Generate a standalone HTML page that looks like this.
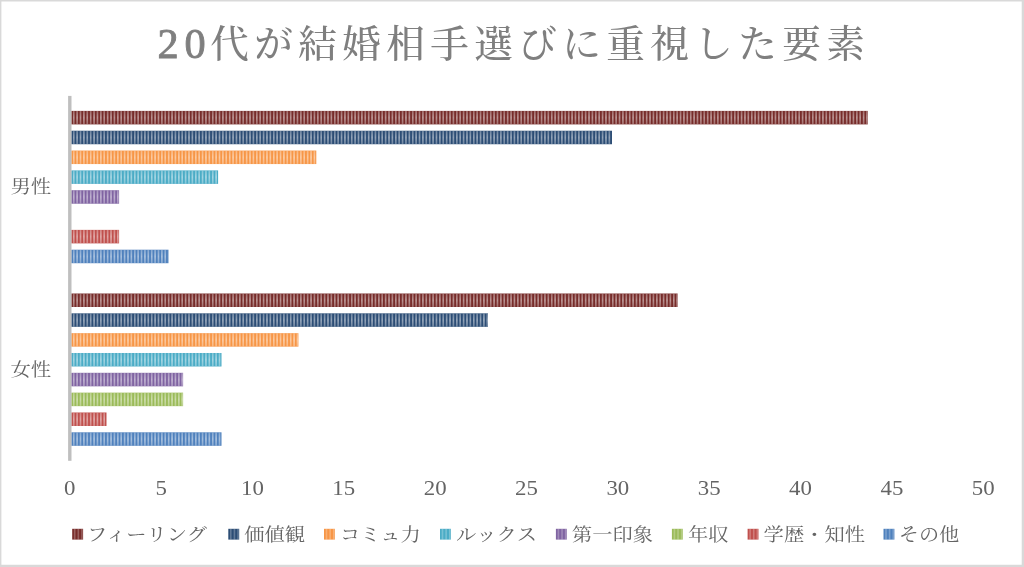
<!DOCTYPE html>
<html lang="ja">
<head>
<meta charset="utf-8">
<title>20代が結婚相手選びに重視した要素</title>
<style>
html,body{margin:0;padding:0;background:#d9d9d9;}
body{width:1024px;height:567px;overflow:hidden;}
svg{display:block;filter:blur(0.4px);}
text{font-family:"Liberation Serif","Noto Serif CJK SC",serif;}
.t{font-weight:500;fill:#7f7f7f;font-size:38.5px;}
.d{font-weight:400;fill:#7f7f7f;font-size:42.3px;stroke:#7f7f7f;stroke-width:0.9px;}
.l{fill:#646464;font-size:20px;}
.n{fill:#646464;font-size:20.6px;text-anchor:middle;}
</style>
</head>
<body>
<svg width="1024" height="567" viewBox="0 0 1024 567">
<defs>
<linearGradient id="mg" x1="0" y1="0" x2="0" y2="1">
<stop offset="0" stop-color="#fff" stop-opacity="0.30"/>
<stop offset="0.5" stop-color="#fff" stop-opacity="0.50"/>
<stop offset="1" stop-color="#fff" stop-opacity="0.30"/>
</linearGradient>
<mask id="m" maskContentUnits="objectBoundingBox"><rect x="0" y="0" width="1" height="1" fill="url(#mg)"/></mask>
<pattern id="st" x="71.20" y="0" width="3.39" height="20" patternUnits="userSpaceOnUse"><rect x="1.695" y="0" width="1.695" height="20" fill="#fff"/></pattern>
</defs>
<rect x="0" y="0" width="1024" height="567" fill="#fff"/>
<path d="M0 0H1024V567H0Z M1.4 1.4V564.8H1021.7V1.4Z" fill="#d9d9d9" fill-rule="evenodd"/>
<text class="d" x="157.4" y="58" letter-spacing="5.9">20</text>
<text class="t" transform="translate(210.2,57.2) scale(1.003,0.98)" letter-spacing="5.4">代が結婚相手選びに重視した要素</text>
<rect x="71.3" y="110.90" width="796.50" height="13.5" fill="#772c2a"/><rect x="71.3" y="110.90" width="796.50" height="13.5" fill="url(#st)" mask="url(#m)"/>
<rect x="71.3" y="130.73" width="540.70" height="13.5" fill="#2c4d75"/><rect x="71.3" y="130.73" width="540.70" height="13.5" fill="url(#st)" mask="url(#m)"/>
<rect x="71.3" y="150.56" width="245.00" height="13.5" fill="#f79646"/><rect x="71.3" y="150.56" width="245.00" height="13.5" fill="url(#st)" mask="url(#m)"/>
<rect x="71.3" y="170.39" width="146.80" height="13.5" fill="#4bacc6"/><rect x="71.3" y="170.39" width="146.80" height="13.5" fill="url(#st)" mask="url(#m)"/>
<rect x="71.3" y="190.22" width="47.80" height="13.5" fill="#8064a2"/><rect x="71.3" y="190.22" width="47.80" height="13.5" fill="url(#st)" mask="url(#m)"/>
<rect x="71.3" y="229.88" width="47.80" height="13.5" fill="#c0504d"/><rect x="71.3" y="229.88" width="47.80" height="13.5" fill="url(#st)" mask="url(#m)"/>
<rect x="71.3" y="249.71" width="97.20" height="13.5" fill="#4f81bd"/><rect x="71.3" y="249.71" width="97.20" height="13.5" fill="url(#st)" mask="url(#m)"/>
<rect x="71.3" y="293.50" width="606.30" height="13.5" fill="#772c2a"/><rect x="71.3" y="293.50" width="606.30" height="13.5" fill="url(#st)" mask="url(#m)"/>
<rect x="71.3" y="313.33" width="416.70" height="13.5" fill="#2c4d75"/><rect x="71.3" y="313.33" width="416.70" height="13.5" fill="url(#st)" mask="url(#m)"/>
<rect x="71.3" y="333.16" width="227.10" height="13.5" fill="#f79646"/><rect x="71.3" y="333.16" width="227.10" height="13.5" fill="url(#st)" mask="url(#m)"/>
<rect x="71.3" y="352.99" width="150.20" height="13.5" fill="#4bacc6"/><rect x="71.3" y="352.99" width="150.20" height="13.5" fill="url(#st)" mask="url(#m)"/>
<rect x="71.3" y="372.82" width="111.80" height="13.5" fill="#8064a2"/><rect x="71.3" y="372.82" width="111.80" height="13.5" fill="url(#st)" mask="url(#m)"/>
<rect x="71.3" y="392.65" width="111.80" height="13.5" fill="#9bbb59"/><rect x="71.3" y="392.65" width="111.80" height="13.5" fill="url(#st)" mask="url(#m)"/>
<rect x="71.3" y="412.48" width="35.20" height="13.5" fill="#c0504d"/><rect x="71.3" y="412.48" width="35.20" height="13.5" fill="url(#st)" mask="url(#m)"/>
<rect x="71.3" y="432.31" width="150.20" height="13.5" fill="#4f81bd"/><rect x="71.3" y="432.31" width="150.20" height="13.5" fill="url(#st)" mask="url(#m)"/>
<rect x="68.1" y="95.9" width="3.40" height="364.90" fill="#bfbfbf"/>
<text class="l" transform="translate(10.4,193.2) scale(1.02,0.92)">男性</text>
<text class="l" transform="translate(10.4,375.8) scale(1.02,0.92)">女性</text>
<text class="n" transform="translate(69.75,495) scale(1.11,1)">0</text>
<text class="n" transform="translate(161.10,495) scale(1.11,1)">5</text>
<text class="n" transform="translate(252.45,495) scale(1.11,1)">10</text>
<text class="n" transform="translate(343.80,495) scale(1.11,1)">15</text>
<text class="n" transform="translate(435.15,495) scale(1.11,1)">20</text>
<text class="n" transform="translate(526.50,495) scale(1.11,1)">25</text>
<text class="n" transform="translate(617.85,495) scale(1.11,1)">30</text>
<text class="n" transform="translate(709.20,495) scale(1.11,1)">35</text>
<text class="n" transform="translate(800.55,495) scale(1.11,1)">40</text>
<text class="n" transform="translate(891.90,495) scale(1.11,1)">45</text>
<text class="n" transform="translate(983.25,495) scale(1.11,1)">50</text>
<rect x="72.2" y="528.8" width="10.9" height="10.8" fill="#772c2a"/><rect x="73.90" y="528.8" width="1.6" height="10.8" fill="#fff" opacity="0.25"/><rect x="77.53" y="528.8" width="1.6" height="10.8" fill="#fff" opacity="0.25"/><rect x="81.16" y="528.8" width="1.6" height="10.8" fill="#fff" opacity="0.25"/><text class="l" transform="translate(87.10,540.6) scale(1.018,0.92)">フィーリング</text>
<rect x="228.3" y="528.8" width="10.9" height="10.8" fill="#2c4d75"/><rect x="230.00" y="528.8" width="1.6" height="10.8" fill="#fff" opacity="0.25"/><rect x="233.63" y="528.8" width="1.6" height="10.8" fill="#fff" opacity="0.25"/><rect x="237.26" y="528.8" width="1.6" height="10.8" fill="#fff" opacity="0.25"/><text class="l" transform="translate(244.30,540.6) scale(1.015,0.92)">価値観</text>
<rect x="324.0" y="528.8" width="10.9" height="10.8" fill="#f79646"/><rect x="325.70" y="528.8" width="1.6" height="10.8" fill="#fff" opacity="0.25"/><rect x="329.33" y="528.8" width="1.6" height="10.8" fill="#fff" opacity="0.25"/><rect x="332.96" y="528.8" width="1.6" height="10.8" fill="#fff" opacity="0.25"/><text class="l" transform="translate(340.00,540.6) scale(1.015,0.92)">コミュ力</text>
<rect x="440.0" y="528.8" width="10.9" height="10.8" fill="#4bacc6"/><rect x="441.70" y="528.8" width="1.6" height="10.8" fill="#fff" opacity="0.25"/><rect x="445.33" y="528.8" width="1.6" height="10.8" fill="#fff" opacity="0.25"/><rect x="448.96" y="528.8" width="1.6" height="10.8" fill="#fff" opacity="0.25"/><text class="l" transform="translate(456.00,540.6) scale(1.015,0.92)">ルックス</text>
<rect x="555.9" y="528.8" width="10.9" height="10.8" fill="#8064a2"/><rect x="557.60" y="528.8" width="1.6" height="10.8" fill="#fff" opacity="0.25"/><rect x="561.23" y="528.8" width="1.6" height="10.8" fill="#fff" opacity="0.25"/><rect x="564.86" y="528.8" width="1.6" height="10.8" fill="#fff" opacity="0.25"/><text class="l" transform="translate(571.90,540.6) scale(1.015,0.92)">第一印象</text>
<rect x="671.9" y="528.8" width="10.9" height="10.8" fill="#9bbb59"/><rect x="673.60" y="528.8" width="1.6" height="10.8" fill="#fff" opacity="0.25"/><rect x="677.23" y="528.8" width="1.6" height="10.8" fill="#fff" opacity="0.25"/><rect x="680.86" y="528.8" width="1.6" height="10.8" fill="#fff" opacity="0.25"/><text class="l" transform="translate(687.90,540.6) scale(1.015,0.92)">年収</text>
<rect x="747.6" y="528.8" width="10.9" height="10.8" fill="#c0504d"/><rect x="749.30" y="528.8" width="1.6" height="10.8" fill="#fff" opacity="0.25"/><rect x="752.93" y="528.8" width="1.6" height="10.8" fill="#fff" opacity="0.25"/><rect x="756.56" y="528.8" width="1.6" height="10.8" fill="#fff" opacity="0.25"/><text class="l" transform="translate(763.60,540.6) scale(1.015,0.92)">学歴・知性</text>
<rect x="883.5" y="528.8" width="10.9" height="10.8" fill="#4f81bd"/><rect x="885.20" y="528.8" width="1.6" height="10.8" fill="#fff" opacity="0.25"/><rect x="888.83" y="528.8" width="1.6" height="10.8" fill="#fff" opacity="0.25"/><rect x="892.46" y="528.8" width="1.6" height="10.8" fill="#fff" opacity="0.25"/><text class="l" transform="translate(898.80,540.6) scale(1.008,0.92)">その他</text>
</svg>
</body>
</html>
